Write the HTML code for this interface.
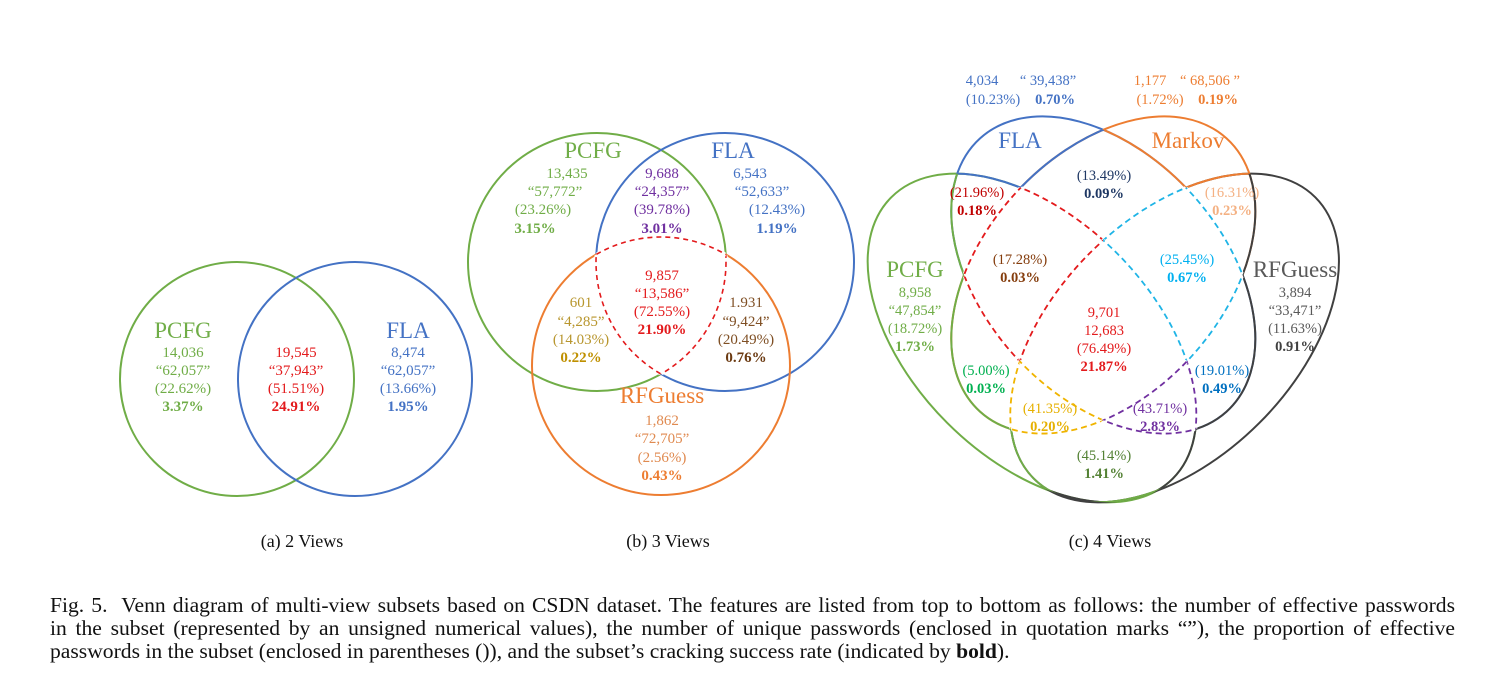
<!DOCTYPE html>
<html><head><meta charset="utf-8">
<style>
html,body{margin:0;padding:0;background:#fff;}
body{width:1499px;height:674px;overflow:hidden;position:relative;font-family:"Liberation Serif",serif;}
svg{position:absolute;left:0;top:0;}
svg text{font-family:"Liberation Serif",serif;}
.cap{position:absolute;left:50px;width:1405px;font-size:21.6px;color:#111;line-height:22px;text-align:justify;text-align-last:justify;white-space:nowrap;}
.cap.last{text-align-last:left;}
</style></head>
<body>
<svg id="fig" width="1499" height="674" viewBox="0 0 1499 674">
<defs>
  <ellipse id="eP" cx="1032" cy="338" rx="199" ry="120" transform="rotate(45 1032 338)"/>
  <ellipse id="eR" cx="1174.6" cy="338" rx="199" ry="120" transform="rotate(-45 1174.6 338)"/>
  <ellipse id="eF" cx="1103.3" cy="275" rx="184" ry="120" transform="rotate(48 1103.3 275)"/>
  <ellipse id="eM" cx="1103.3" cy="275" rx="184" ry="120" transform="rotate(-48 1103.3 275)"/>
  <clipPath id="cP"><use href="#eP"/></clipPath>
  <clipPath id="cR"><use href="#eR"/></clipPath>
  <clipPath id="cF"><use href="#eF"/></clipPath>
  <clipPath id="cM"><use href="#eM"/></clipPath>
  <mask id="nP" maskUnits="userSpaceOnUse" x="0" y="0" width="1499" height="674"><rect width="1499" height="674" fill="#fff"/><use href="#eP" fill="#000"/></mask>
  <mask id="nR" maskUnits="userSpaceOnUse" x="0" y="0" width="1499" height="674"><rect width="1499" height="674" fill="#fff"/><use href="#eR" fill="#000"/></mask>
  <mask id="nF" maskUnits="userSpaceOnUse" x="0" y="0" width="1499" height="674"><rect width="1499" height="674" fill="#fff"/><use href="#eF" fill="#000"/></mask>
  <mask id="nM" maskUnits="userSpaceOnUse" x="0" y="0" width="1499" height="674"><rect width="1499" height="674" fill="#fff"/><use href="#eM" fill="#000"/></mask>
  <circle id="bG" cx="597" cy="262" r="129"/>
  <circle id="bB" cx="725" cy="262" r="129"/>
  <circle id="bO" cx="661" cy="366" r="129"/>
  <clipPath id="kG"><use href="#bG"/></clipPath>
  <clipPath id="kB"><use href="#bB"/></clipPath>
  <clipPath id="kO"><use href="#bO"/></clipPath>
</defs>

<!-- Panel A -->
<g>
  <circle cx="237" cy="379" r="117" fill="none" stroke="#70ad47" stroke-width="2"/>
  <circle cx="355" cy="379" r="117" fill="none" stroke="#4472c4" stroke-width="2"/>
  <g font-size="15" text-anchor="middle">
    <text x="183" y="338" font-size="23" fill="#70ad47">PCFG</text>
    <g fill="#70ad47">
      <text x="183" y="357">14,036</text><text x="183" y="375">“62,057”</text><text x="183" y="393">(22.62%)</text><text x="183" y="411" font-weight="bold">3.37%</text>
    </g>
    <g fill="#e31a1c">
      <text x="296" y="357">19,545</text><text x="296" y="375">“37,943”</text><text x="296" y="393">(51.51%)</text><text x="296" y="411" font-weight="bold">24.91%</text>
    </g>
    <text x="408" y="338" font-size="23" fill="#4472c4">FLA</text>
    <g fill="#4472c4">
      <text x="408" y="357">8,474</text><text x="408" y="375">“62,057”</text><text x="408" y="393">(13.66%)</text><text x="408" y="411" font-weight="bold">1.95%</text>
    </g>
  </g>
  <text x="302" y="547" font-size="18" text-anchor="middle" fill="#111">(a) 2 Views</text>
</g>

<!-- Panel B -->
<g>
  <use href="#bG" fill="none" stroke="#70ad47" stroke-width="2"/>
  <use href="#bB" fill="none" stroke="#4472c4" stroke-width="2"/>
  <use href="#bO" fill="none" stroke="#ed7d31" stroke-width="2"/>
  <g id="tripleB"></g>
  <g font-size="15" text-anchor="middle">
    <text x="593" y="158" font-size="23" fill="#70ad47">PCFG</text>
    <text x="733" y="158" font-size="23" fill="#4472c4">FLA</text>
    <text x="662" y="403" font-size="23" fill="#ed7d31">RFGuess</text>
    <g fill="#70ad47">
      <text x="567" y="178">13,435</text><text x="555" y="196">“57,772”</text><text x="543" y="214">(23.26%)</text><text x="535" y="233" font-weight="bold">3.15%</text>
    </g>
    <g fill="#7030a0">
      <text x="662" y="178">9,688</text><text x="662" y="196">“24,357”</text><text x="662" y="214">(39.78%)</text><text x="662" y="233" font-weight="bold">3.01%</text>
    </g>
    <g fill="#4472c4">
      <text x="750" y="178">6,543</text><text x="762" y="196">“52,633”</text><text x="777" y="214">(12.43%)</text><text x="777" y="233" font-weight="bold">1.19%</text>
    </g>
    <g fill="#e31a1c">
      <text x="662" y="280">9,857</text><text x="662" y="298">“13,586”</text><text x="662" y="316">(72.55%)</text><text x="662" y="334" font-weight="bold">21.90%</text>
    </g>
    <g fill="#b8962e">
      <text x="581" y="307">601</text><text x="581" y="326">“4,285”</text><text x="581" y="344">(14.03%)</text><text x="581" y="362" font-weight="bold" fill="#bf9000">0.22%</text>
    </g>
    <g fill="#7f4f24">
      <text x="746" y="307">1.931</text><text x="746" y="326">“9,424”</text><text x="746" y="344">(20.49%)</text><text x="746" y="362" font-weight="bold" fill="#6b3a12">0.76%</text>
    </g>
    <g fill="#e08a50">
      <text x="662" y="425">1,862</text><text x="662" y="443">“72,705”</text><text x="662" y="462">(2.56%)</text><text x="662" y="480" font-weight="bold" fill="#ed7d31">0.43%</text>
    </g>
  </g>
  <text x="668" y="547" font-size="18" text-anchor="middle" fill="#111">(b) 3 Views</text>
</g>

<!-- Panel C -->
<g>
  <use href="#eP" fill="none" stroke="#70ad47" stroke-width="2"/>
  <use href="#eR" fill="none" stroke="#404040" stroke-width="2"/>
  <use href="#eF" fill="none" stroke="#4472c4" stroke-width="2"/>
  <use href="#eM" fill="none" stroke="#ed7d31" stroke-width="2"/>
  <g id="solidC"></g>
  <g id="dashC"></g>
  <g font-size="14.5" text-anchor="middle">
    <g fill="#4472c4">
      <text x="982" y="85">4,034</text><text x="1048" y="85">“ 39,438”</text><text x="993" y="104">(10.23%)</text><text x="1055" y="104" font-weight="bold">0.70%</text>
    </g>
    <g fill="#ed7d31">
      <text x="1150" y="85">1,177</text><text x="1210" y="85">“ 68,506 ”</text><text x="1160" y="104">(1.72%)</text><text x="1218" y="104" font-weight="bold">0.19%</text>
    </g>
    <text x="1020" y="148" font-size="23" fill="#4472c4">FLA</text>
    <text x="1188" y="148" font-size="23" fill="#ed7d31">Markov</text>
    <g fill="#1f3864"><text x="1104" y="180">(13.49%)</text><text x="1104" y="198" font-weight="bold">0.09%</text></g>
    <g fill="#c00000"><text x="977" y="197">(21.96%)</text><text x="977" y="215" font-weight="bold">0.18%</text></g>
    <g fill="#f4b183"><text x="1232" y="197">(16.31%)</text><text x="1232" y="215" font-weight="bold">0.23%</text></g>
    <g fill="#843c0c"><text x="1020" y="264">(17.28%)</text><text x="1020" y="282" font-weight="bold">0.03%</text></g>
    <g fill="#00b0f0"><text x="1187" y="264">(25.45%)</text><text x="1187" y="282" font-weight="bold">0.67%</text></g>
    <text x="915" y="277" font-size="23" fill="#70ad47">PCFG</text>
    <g fill="#70ad47">
      <text x="915" y="297">8,958</text><text x="915" y="315">“47,854”</text><text x="915" y="333">(18.72%)</text><text x="915" y="351" font-weight="bold">1.73%</text>
    </g>
    <text x="1295" y="277" font-size="23" fill="#595959">RFGuess</text>
    <g fill="#595959">
      <text x="1295" y="297">3,894</text><text x="1295" y="315">“33,471”</text><text x="1295" y="333">(11.63%)</text><text x="1295" y="351" font-weight="bold" fill="#404040">0.91%</text>
    </g>
    <g fill="#e31a1c">
      <text x="1104" y="317">9,701</text><text x="1104" y="335">12,683</text><text x="1104" y="353">(76.49%)</text><text x="1104" y="371" font-weight="bold">21.87%</text>
    </g>
    <g fill="#00b050"><text x="986" y="375">(5.00%)</text><text x="986" y="393" font-weight="bold">0.03%</text></g>
    <g fill="#0070c0"><text x="1222" y="375">(19.01%)</text><text x="1222" y="393" font-weight="bold">0.49%</text></g>
    <g fill="#e6b000"><text x="1050" y="413">(41.35%)</text><text x="1050" y="431" font-weight="bold">0.20%</text></g>
    <g fill="#7030a0"><text x="1160" y="413">(43.71%)</text><text x="1160" y="431" font-weight="bold">2.83%</text></g>
    <g fill="#548235"><text x="1104" y="460">(45.14%)</text><text x="1104" y="478" font-weight="bold">1.41%</text></g>
  </g>
  <text x="1110" y="547" font-size="18" text-anchor="middle" fill="#111">(c) 4 Views</text>
</g>
</svg>

<div class="cap" style="top:594px">Fig. 5.&nbsp; Venn diagram of multi-view subsets based on CSDN dataset. The features are listed from top to bottom as follows: the number of effective passwords</div>
<div class="cap" style="top:617px">in the subset (represented by an unsigned numerical values), the number of unique passwords (enclosed in quotation marks “”), the proportion of effective</div>
<div class="cap last" style="top:640px">passwords in the subset (enclosed in parentheses ()), and the subset’s cracking success rate (indicated by <b>bold</b>).</div>

<script>
var NS = "http://www.w3.org/2000/svg";
// Panel B: dashed outline of triple intersection
var circlesB = ["bG", "bB", "bO"];
var clipsB = {bG: "kG", bB: "kB", bO: "kO"};
var tb = document.getElementById("tripleB");
circlesB.forEach(function (c) {
  var others = circlesB.filter(function (o) { return o !== c; });
  [["#fff", "0", 3.5], ["#e31a1c", "5 4", 1.6]].forEach(function (st) {
    var g1 = document.createElementNS(NS, "g");
    g1.setAttribute("clip-path", "url(#" + clipsB[others[0]] + ")");
    var g2 = document.createElementNS(NS, "g");
    g2.setAttribute("clip-path", "url(#" + clipsB[others[1]] + ")");
    var u = document.createElementNS(NS, "use");
    u.setAttribute("href", "#" + c);
    u.setAttribute("fill", "none");
    u.setAttribute("stroke", st[0]);
    u.setAttribute("stroke-width", st[2]);
    if (st[1] !== "0") u.setAttribute("stroke-dasharray", st[1]);
    
    
    g2.appendChild(u); g1.appendChild(g2); tb.appendChild(g1);
  });
});

function nestGroups(root, ins, outs) {
  var cur = root;
  ins.forEach(function (o) {
    var g = document.createElementNS(NS, "g");
    g.setAttribute("clip-path", "url(#c" + o + ")");
    cur.appendChild(g); cur = g;
  });
  outs.forEach(function (o) {
    var g = document.createElementNS(NS, "g");
    g.setAttribute("mask", "url(#n" + o + ")");
    cur.appendChild(g); cur = g;
  });
  return cur;
}

// Panel C: borders of single-set regions coloured with that set's colour
var setsC = ["P", "R", "F", "M"];
var colorsC = {P: "#70ad47", R: "#404040", F: "#4472c4", M: "#ed7d31"};
var sc = document.getElementById("solidC");
setsC.forEach(function (e) {
  setsC.forEach(function (x) {
    if (x === e) return;
    var outs = setsC.filter(function (o) { return o !== e && o !== x; });
    var root = document.createElementNS(NS, "g");
    var cur = nestGroups(root, [x], outs);
    var u = document.createElementNS(NS, "use");
    u.setAttribute("href", "#e" + e);
    u.setAttribute("fill", "none");
    u.setAttribute("stroke", colorsC[x]);
    u.setAttribute("stroke-width", 2);
    
    
    cur.appendChild(u);
    sc.appendChild(root);
  });
});

// Panel C: dashed region outlines
var regionsC = [
  {inside: ["P", "F", "M"], outside: "R", color: "#e31a1c"},
  {inside: ["R", "F", "M"], outside: "P", color: "#1fb4e6"},
  {inside: ["P", "R", "M"], outside: "F", color: "#f0b400"},
  {inside: ["P", "R", "F"], outside: "M", color: "#7030a0"}
];
var dc = document.getElementById("dashC");
regionsC.forEach(function (reg) {
  var all = reg.inside.concat([reg.outside]);
  all.forEach(function (e) {
    [["#fff", 0, 3.5], [reg.color, 1, 1.8]].forEach(function (st) {
      var root = document.createElementNS(NS, "g");
      var ins = reg.inside.filter(function (o) { return o !== e; });
      var outs = (e === reg.outside) ? [] : [reg.outside];
      var cur = nestGroups(root, ins, outs);
      var u = document.createElementNS(NS, "use");
      u.setAttribute("href", "#e" + e);
      u.setAttribute("fill", "none");
      u.setAttribute("stroke", st[0]);
      u.setAttribute("stroke-width", st[2]);
      if (st[1]) u.setAttribute("stroke-dasharray", "6 4");
      
      
      cur.appendChild(u);
      dc.appendChild(root);
    });
  });
});
</script>
</body></html>
